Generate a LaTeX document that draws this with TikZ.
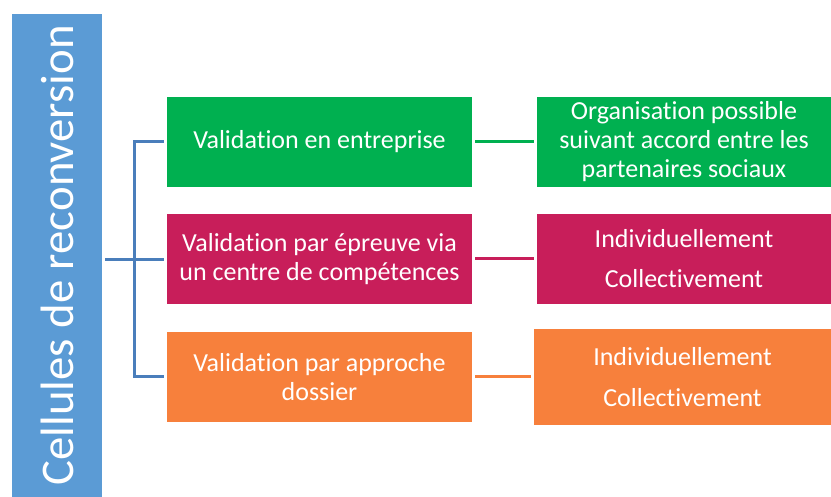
\documentclass[tikz,border=0pt]{standalone}
\usepackage{fontspec}
\setmainfont{Carlito}[Ligatures=NoCommon]
\definecolor{cblue}{HTML}{5B9BD5}
\definecolor{cgreen}{HTML}{00B050}
\definecolor{cmag}{HTML}{C81E5A}
\definecolor{corange}{HTML}{F7803C}
\definecolor{cline}{HTML}{4A7EBB}
\tikzset{
  box/.style={fill=#1, text=white, inner sep=0pt, align=center, font=\fontsize{26}{29}\selectfont},
  tree/.style={draw=cline, line width=3pt},
  link/.style={draw=#1, line width=3pt, shorten <=3pt, shorten >=3pt},
}
\begin{document}
\begin{tikzpicture}[x=1pt,y=-1pt]
\useasboundingbox (0,0) rectangle (831,497);
\node[box=cblue, minimum width=483pt, minimum height=90pt, rotate=90, font=\fontsize{46.8}{50}\selectfont] (blue) at (57,255.5) {Cellules de reconversion};
\node[box=cgreen, minimum width=305pt, minimum height=90pt] (v1) at (319.5,142) {Validation en entreprise};
\node[box=cmag, minimum width=305pt, minimum height=90pt] (v2) at (319.5,259) {Validation par épreuve via\\un centre de compétences};
\node[box=corange, minimum width=305pt, minimum height=90pt] (v3) at (319.5,377) {Validation par approche\\dossier};
\node[box=cgreen, minimum width=294pt, minimum height=90pt] (r1) at (684,142) {Organisation possible\\suivant accord entre les\\partenaires sociaux};
\node[box=cmag, minimum width=294pt, minimum height=90pt, font=\fontsize{26}{40}\selectfont] (r2) at (684,259) {Individuellement\\Collectivement};
\node[box=corange, minimum width=297pt, minimum height=96pt, font=\fontsize{26}{41}\selectfont] (r3) at (682.5,377) {Individuellement\\Collectivement};
\coordinate (j) at (134.5,260);
\draw[tree, shorten <=3pt] (blue.south |- j) -- (j);
\draw[tree, shorten <=3pt, shorten >=3pt] (v1.west) -| (j) |- (v3.west);
\draw[tree, shorten >=3pt] (j) -- (j -| v2.west);
\draw[link=cgreen] (v1.east) -- (r1.west);
\draw[link=cmag] (v2.east) -- (r2.west);
\draw[link=corange] (v3.east) -- (r3.west);
\end{tikzpicture}
\end{document}
